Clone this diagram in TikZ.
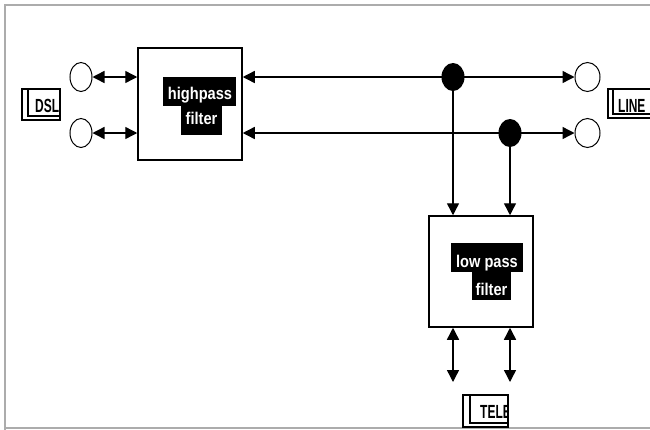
\documentclass[tikz,border=0pt]{standalone}
\usepackage{fontspec}
\setmainfont{Liberation Sans}
\newfontfamily\offfont[FakeStretch=0.63]{Liberation Sans}
\newfontfamily\blkfont[FakeStretch=0.86]{Liberation Sans}
\usetikzlibrary{arrows.meta,shapes.geometric}
\begin{document}
\begin{tikzpicture}[x=1pt,y=-1pt,
  >={Triangle[length=12pt,width=12pt]},
  box/.style={draw,line width=1.5pt,minimum width=104pt,minimum height=112pt,inner sep=0pt},
  port/.style={draw,ellipse,line width=1pt,inner sep=0pt,minimum width=23pt,minimum height=29pt},
  jdot/.style={fill=black,ellipse,inner sep=0pt,minimum width=23pt,minimum height=28pt},
  conn/.style={line width=1.4pt},
  blk/.style={fill=black},
  blktext/.style={text=white,font=\blkfont\bfseries\fontsize{17}{17}\selectfont,inner sep=0pt,anchor=base},
  offp/.style={line width=1.1pt},
  offtext/.style={font=\offfont\bfseries\fontsize{19}{19}\selectfont,inner sep=0pt,anchor=base west}
]
\useasboundingbox (0,0) rectangle (650,429);
\clip (0,0) rectangle (650,429);
\fill[white] (0,0) rectangle (650,429);
% frame
\draw[gray!65,line width=2pt] (5,440) -- (5,4.5) -- (700,4.5);
\draw[gray!65,line width=2pt] (5,427.8) -- (700,427.8);

% main blocks
\node[box] (hp) at (190,104) {};
\node[box,minimum height=111pt] (lp) at (481,271.5) {};

% label blocks
\fill[blk] (163,77) rectangle (236,106);
\fill[blk] (181,105) rectangle (222,135);
\node[blktext] (hpt1) at (200,99) {highpass};
\node[blktext] (hpt2) at (201.5,124) {filter};
\fill[blk] (451,243) rectangle (523,272);
\fill[blk] (472,271) rectangle (511,300);
\node[blktext] (lpt1) at (487,267) {low pass};
\node[blktext] (lpt2) at (491.5,295) {filter};

% ports
\node[port,minimum width=22pt] (cL1) at (81,77) {};
\node[port,minimum width=22pt] (cL2) at (81,133) {};
\node[port,minimum width=25pt] (cR1) at (587.5,77) {};
\node[port,minimum width=25pt] (cR2) at (587.5,133) {};

% junction positions
\coordinate (j1) at (453,77);
\coordinate (j2) at (510,133);
\coordinate (b1) at (453,382);
\coordinate (b2) at (510,382);

% connectors
\draw[conn,<->] (cL1.east) -- (cL1.east -| hp.west);
\draw[conn,<->] (cL2.east) -- (cL2.east -| hp.west);
\draw[conn,->] (j1) -- (j1 -| hp.east);
\draw[conn,->] (j1) -- (cR1.west);
\draw[conn,->] (j2) -- (j2 -| hp.east);
\draw[conn,->] (j2) -- (cR2.west);
\draw[conn,->] (j1) -- (j1 |- lp.north);
\draw[conn,->] (j2) -- (j2 |- lp.north);
\draw[conn,<->] (b1 |- lp.south) -- (b1);
\draw[conn,<->] (b2 |- lp.south) -- (b2);

% junction dots
\node[jdot] (d1) at (j1) {};
\node[jdot] (d2) at (j2) {};

% off-page labels
\node[draw,offp,minimum width=38pt,minimum height=31pt,inner sep=0pt] (dsl) at (41,104.5) {};
\draw[offp] (28,90) -- (28,116) -- (60,116);
\begin{scope}
\clip (dsl.north west) rectangle (dsl.south east);
\node[offtext] (dslt) at (35,112) {DSL};
\end{scope}

\node[draw,offp,minimum width=50pt,minimum height=29pt,inner sep=0pt] (line) at (633,103.5) {};
\draw[offp] (613,90) -- (613,114) -- (660,114);
\node[offtext] (linet) at (618,112) {LINE};

\node[draw,offp,minimum width=45pt,minimum height=32pt,inner sep=0pt] (tele) at (485.5,411) {};
\draw[offp] (470,396) -- (470,423) -- (508,423);
\begin{scope}
\clip (tele.north west) rectangle (tele.south east);
\node[offtext] (telet) at (480,418) {TELE};
\end{scope}
\end{tikzpicture}
\end{document}
